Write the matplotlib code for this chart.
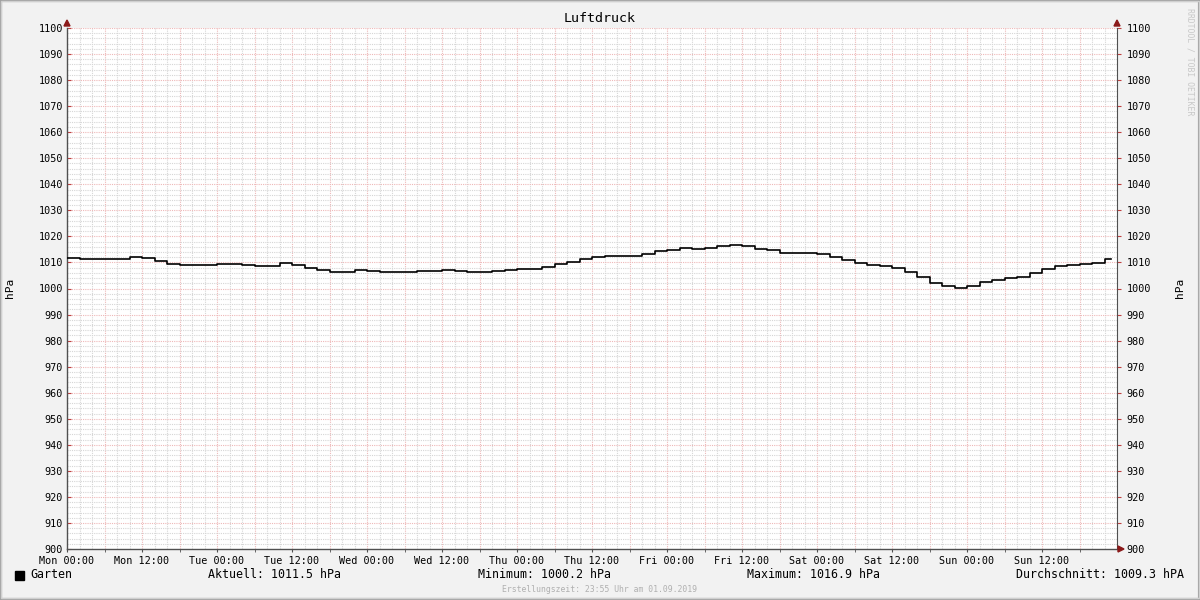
import matplotlib
matplotlib.use("Agg")
import matplotlib.pyplot as plt
import numpy as np
from matplotlib.patches import Rectangle, Polygon

# Stunden ab Mon 00:00 (alle 2 Stunden) und Luftdruck in hPa
stunden = list(range(0, 168, 2)) + [167]
druck = [1011.7, 1011.5, 1011.3, 1011.2, 1011.4, 1012.0, 1011.7, 1010.6, 1009.4, 1009.1,
         1009.0, 1009.1, 1009.4, 1009.3, 1008.9, 1008.6, 1008.8, 1009.6, 1009.1, 1007.9,
         1007.0, 1006.5, 1006.5, 1007.0, 1006.6, 1006.5, 1006.5, 1006.2, 1006.6, 1006.8,
         1007.0, 1006.7, 1006.4, 1006.5, 1006.8, 1007.1, 1007.6, 1007.5, 1008.3, 1009.3,
         1010.3, 1011.4, 1012.1, 1012.6, 1012.5, 1012.4, 1013.1, 1014.3, 1014.9, 1015.4,
         1015.3, 1015.6, 1016.3, 1016.8, 1016.3, 1015.3, 1014.6, 1013.8, 1013.6, 1013.6,
         1013.1, 1012.2, 1011.0, 1009.9, 1009.2, 1008.6, 1007.8, 1006.5, 1004.5, 1002.2,
         1000.8, 1000.2, 1000.8, 1002.5, 1003.4, 1003.9, 1004.4, 1005.8, 1007.6, 1008.5,
         1009.0, 1009.3, 1009.9, 1011.2, 1011.5]

x_ticks = list(range(0, 168, 12))
x_labels = ["Mon 00:00", "Mon 12:00", "Tue 00:00", "Tue 12:00", "Wed 00:00", "Wed 12:00",
            "Thu 00:00", "Thu 12:00", "Fri 00:00", "Fri 12:00", "Sat 00:00", "Sat 12:00",
            "Sun 00:00", "Sun 12:00"]
legende = ["Aktuell: 1011.5 hPa", "Minimum: 1000.2 hPa", "Maximum: 1016.9 hPa",
           "Durchschnitt: 1009.3 hPA"]

W, H = 1200, 600
mono = "DejaVu Sans Mono"
plt.rcParams["font.family"] = mono

fig = plt.figure(figsize=(12, 6), dpi=100, facecolor="#f2f2f2")

# Rahmen
fig.patches.append(Rectangle((0, 0), 1, 1, transform=fig.transFigure, fill=False,
                             edgecolor="#a0a0a0", linewidth=3))
fig.patches.append(Rectangle((0.001, 0.003), 0.998, 0.995, transform=fig.transFigure, fill=False,
                             edgecolor="#d0d0d0", linewidth=1))

ax = fig.add_axes([67 / W, 1 - 549 / H, 1050 / W, 521 / H])
ax.set_facecolor("white")
ax.set_xlim(0, 168)
ax.set_ylim(900, 1100)

# Gitter
minor_c = "#d6d6d6"
major_c = "#eeb8b8"
for h in np.arange(2, 168, 2):
    if h % 6 != 0:
        ax.axvline(h, color=minor_c, lw=0.8, ls=(0, (1, 1)), zorder=1)
for h in np.arange(6, 168, 6):
    ax.axvline(h, color=major_c, lw=0.8, ls=(0, (1, 1)), zorder=1)
for v in np.arange(902, 1101, 2):
    if v % 10 != 0:
        ax.axhline(v, color=minor_c, lw=0.8, ls=(0, (1, 1)), zorder=1)
for v in np.arange(910, 1101, 10):
    ax.axhline(v, color=major_c, lw=0.8, ls=(0, (1, 1)), zorder=1)

ax.step(stunden, druck, where="post", color="black", lw=1.2, zorder=3)

for s in ["top", "right"]:
    ax.spines[s].set_visible(False)
ax.spines["left"].set_color("#505050")
ax.spines["bottom"].set_color("#505050")
ax.spines["left"].set_linewidth(1)
ax.spines["bottom"].set_linewidth(1)

ax.set_xticks(x_ticks)
ax.set_xticklabels(x_labels, fontsize=7.3)
ax.set_xticks(np.arange(6, 168, 12), minor=True)
ax.set_yticks(np.arange(900, 1101, 10))
ax.set_yticklabels([str(v) for v in range(900, 1101, 10)], fontsize=7.3)
ax.tick_params(axis="both", which="both", direction="in", length=3, color="#c04040", pad=3)
ax.tick_params(axis="x", which="both", direction="out", length=2, color="#505050")

# rechte Achse
ax2 = ax.twinx()
ax2.set_ylim(900, 1100)
ax2.set_yticks(np.arange(900, 1101, 10))
ax2.set_yticklabels([str(v) for v in range(900, 1101, 10)], fontsize=7.3)
for s in ["top", "left", "bottom"]:
    ax2.spines[s].set_visible(False)
ax2.spines["right"].set_color("#505050")
ax2.tick_params(axis="y", direction="out", length=3, color="#c04040", pad=4)

# Pfeile
def pfeil(px, py, richtung):
    if richtung == "oben":
        pts = [(px - 3, py + 4), (px + 3, py + 4), (px, py - 2)]
    else:
        pts = [(px - 2, py - 3), (px - 2, py + 3), (px + 4, py)]
    pts = [(a / W, 1 - b / H) for a, b in pts]
    fig.patches.append(Polygon(pts, closed=True, transform=fig.transFigure,
                               color="#8b1a1a"))

pfeil(67, 22, "oben")
pfeil(1117, 22, "oben")
pfeil(1120, 549, "rechts")

# Texte
fig.text(600 / W, 1 - 19 / H, "Luftdruck", ha="center", va="center", fontsize=9.6)
fig.text(10 / W, 1 - 288 / H, "hPa", ha="center", va="center", rotation=90, fontsize=8)
fig.text(1180 / W, 1 - 288 / H, "hPa", ha="center", va="center", rotation=90, fontsize=8)
fig.text(1190 / W, 1 - 62 / H, "RRDTOOL / TOBI OETIKER", ha="center", va="center",
         rotation=270, fontsize=5.9, color="#c8c8c8")

fig.patches.append(Rectangle((15 / W, 1 - 580 / H), 9 / W, 9 / H, transform=fig.transFigure,
                             color="black"))
fig.text(30 / W, 1 - 575 / H, "Garten", ha="left", va="center", fontsize=8.4)
for xpos, txt in zip([208, 478, 747, 1016], legende):
    fig.text(xpos / W, 1 - 575 / H, txt, ha="left", va="center", fontsize=8.4)

fig.text(600 / W, 1 - 589 / H, "Erstellungszeit: 23:55 Uhr am 01.09.2019", ha="center",
         va="center", fontsize=5.9, color="#b0b0b0")

fig.savefig("out.png", dpi=100, facecolor=fig.get_facecolor())
